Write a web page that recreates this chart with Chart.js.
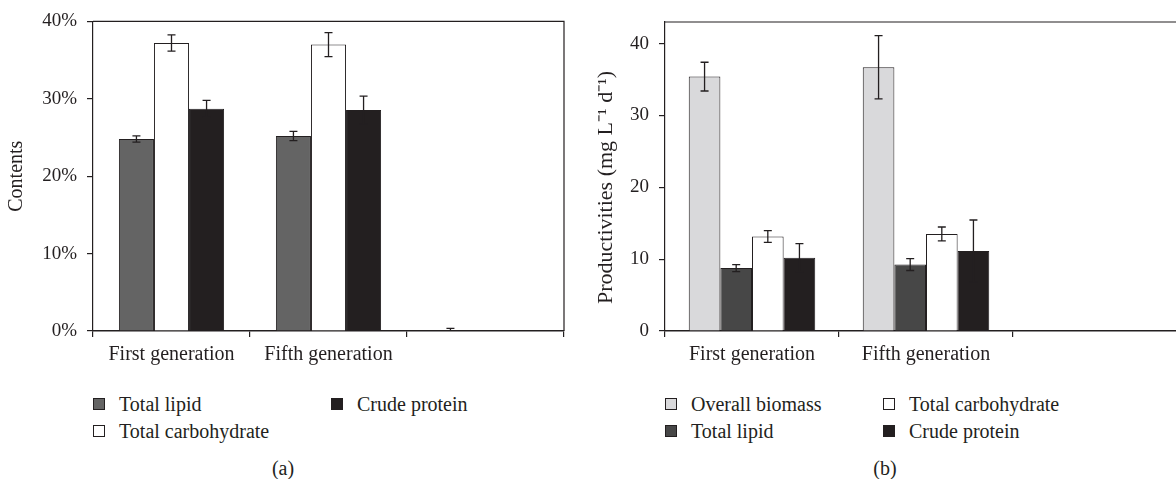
<!DOCTYPE html>
<html>
<head>
<meta charset="utf-8">
<script src="https://cdn.jsdelivr.net/npm/chart.js@4.4.1/dist/chart.umd.min.js"></script>
<style>
  html, body { margin: 0; padding: 0; background: #fff; overflow: hidden; }
  body { width: 1176px; height: 479px; position: relative; font-family: "Liberation Serif", serif; color: #231f20; }
  canvas { position: absolute; top: 0; }
  #chartA { left: 0; }
  #chartB { left: 580px; }
  .leg { position: absolute; font-size: 20px; line-height: 20px; white-space: nowrap; }
  .leg span.box { display: inline-block; width: 10px; height: 10px; border: 1px solid #231f20; position: absolute; left: 0; top: 4px; }
  .leg span.txt { position: absolute; left: 26px; top: 0; }
  .cap { position: absolute; font-size: 20px; top: 457px; transform: translateX(-50%); }
</style>
</head>
<body>
<canvas id="chartA" width="580" height="380"></canvas>
<canvas id="chartB" width="620" height="380"></canvas>
<div id="legends"></div>
<div class="cap" style="left:283px">(a)</div>
<div class="cap" style="left:885px">(b)</div>
<script>
const categories = ["First generation", "Fifth generation", ""];

// (a) contents, %
const contentLabels = ["Total lipid", "Total carbohydrate", "Crude protein"];
const contentColors = ["#646464", "#ffffff", "#231f20"];
const lipidContent = [24.8, 25.2, 0];
const lipidContentErr = [0.4, 0.6, 0.35];
const carbContent = [37.2, 37.0, null];
const carbContentErr = [1.05, 1.55, null];
const proteinContent = [28.7, 28.55, null];
const proteinContentErr = [1.1, 1.8, null];

// (b) productivities, mg L-1 d-1
const prodLabels = ["Overall biomass", "Total lipid", "Total carbohydrate", "Crude protein"];
const prodColors = ["#d9d9db", "#474747", "#ffffff", "#231f20"];
const biomassProd = [35.4, 36.7, null];
const biomassProdErr = [2.0, 4.4, null];
const lipidProd = [8.75, 9.25, null];
const lipidProdErr = [0.5, 0.83, null];
const carbProd = [13.15, 13.5, null];
const carbProdErr = [0.83, 0.97, null];
const proteinProd = [10.2, 11.15, null];
const proteinProdErr = [1.95, 4.3, null];

const ink = "#231f20";
const serif = "Liberation Serif";

// box around the plot area
const frame = {
  id: "frame",
  afterDraw(chart) {
    const a = chart.chartArea, ctx = chart.ctx;
    ctx.save();
    ctx.strokeStyle = ink;
    ctx.lineWidth = 1.2;
    ctx.beginPath();
    ctx.moveTo(a.left, a.top);
    ctx.lineTo(a.right, a.top);
    ctx.lineTo(a.right, a.bottom);
    ctx.stroke();
    ctx.restore();
  }
};

// error bars from each dataset's errs array
const errorBars = {
  id: "errorBars",
  afterDatasetsDraw(chart) {
    const ctx = chart.ctx, y = chart.scales.y;
    ctx.save();
    ctx.strokeStyle = ink;
    ctx.lineWidth = 1.3;
    chart.data.datasets.forEach((ds, i) => {
      const meta = chart.getDatasetMeta(i);
      ds.errs.forEach((e, j) => {
        const v = ds.data[j];
        if (e == null || v == null) return;
        const x = meta.data[j].x;
        const top = y.getPixelForValue(v + e);
        const bot = y.getPixelForValue(Math.max(v - e, y.min));
        ctx.beginPath();
        ctx.moveTo(x, top); ctx.lineTo(x, bot);
        ctx.moveTo(x - 4, top); ctx.lineTo(x + 4, top);
        if (v - e > y.min) { ctx.moveTo(x - 4, bot); ctx.lineTo(x + 4, bot); }
        ctx.stroke();
      });
    });
    ctx.restore();
  }
};

function makeSet(label, data, errs, color) {
  return {
    label: label,
    data: data,
    errs: errs,
    backgroundColor: color,
    borderColor: ink,
    borderWidth: 1,
    borderSkipped: "start"
  };
}

function makeChart(id, datasets, opts) {
  return new Chart(document.getElementById(id), {
    type: "bar",
    data: { labels: categories, datasets: datasets },
    options: {
      responsive: false,
      animation: false,
      layout: { padding: { top: opts.top, right: opts.right, left: 0, bottom: 0 } },
      datasets: { bar: { categoryPercentage: opts.catPct, barPercentage: 1 } },
      plugins: { legend: { display: false }, tooltip: { enabled: false } },
      scales: {
        x: {
          offset: true,
          grid: { offset: true, drawOnChartArea: false, tickLength: 6, color: ink, lineWidth: 1.2 },
          border: { color: ink, width: 1.5 },
          ticks: { color: ink, font: { family: serif, size: 20 }, padding: 6, maxRotation: 0, autoSkip: false },
          afterFit(s) { s.height = 49; }
        },
        y: {
          min: 0,
          max: opts.max,
          grid: { drawOnChartArea: false, tickLength: 6, color: ink, lineWidth: 1.2 },
          border: { color: ink, width: 1.2 },
          ticks: { stepSize: 10, includeBounds: false, color: ink, font: { family: serif, size: 19 }, padding: 10, callback: opts.fmt },
          title: { display: true, text: opts.title, color: ink, font: { family: serif, size: opts.titleSize }, padding: { top: opts.titlePad, bottom: 0 } },
          afterFit(s) { s.width = opts.axisW; }
        }
      }
    },
    plugins: [frame, errorBars]
  });
}

makeChart("chartA", [
  makeSet(contentLabels[0], lipidContent, lipidContentErr, contentColors[0]),
  makeSet(contentLabels[1], carbContent, carbContentErr, contentColors[1]),
  makeSet(contentLabels[2], proteinContent, proteinContentErr, contentColors[2])
], { top: 21, right: 16, catPct: 0.67, max: 40, axisW: 93, titlePad: 5, titleSize: 20, title: "Contents", fmt: v => v + "%" });

makeChart("chartB", [
  makeSet(prodLabels[0], biomassProd, biomassProdErr, prodColors[0]),
  makeSet(prodLabels[1], lipidProd, lipidProdErr, prodColors[1]),
  makeSet(prodLabels[2], carbProd, carbProdErr, prodColors[2]),
  makeSet(prodLabels[3], proteinProd, proteinProdErr, prodColors[3])
], { top: 22, right: 13, catPct: 0.727, max: 43, axisW: 85, titlePad: 13, titleSize: 22, title: "Productivities (mg L\u207B\u00B9 d\u207B\u00B9)\u2003", fmt: v => v });

// legends, two rows filled column by column
function legend(labels, colors, cols, rows) {
  const host = document.getElementById("legends");
  labels.forEach((lab, i) => {
    const d = document.createElement("div");
    d.className = "leg";
    d.style.left = cols[Math.floor(i / 2)] + "px";
    d.style.top = rows[i % 2] + "px";
    d.innerHTML = '<span class="box" style="background:' + colors[i] + '"></span><span class="txt">' + lab + "</span>";
    host.appendChild(d);
  });
}
legend(contentLabels, contentColors, [93, 331], [394, 421]);
legend(prodLabels, prodColors, [665, 883], [394, 421]);
</script>
</body>
</html>
